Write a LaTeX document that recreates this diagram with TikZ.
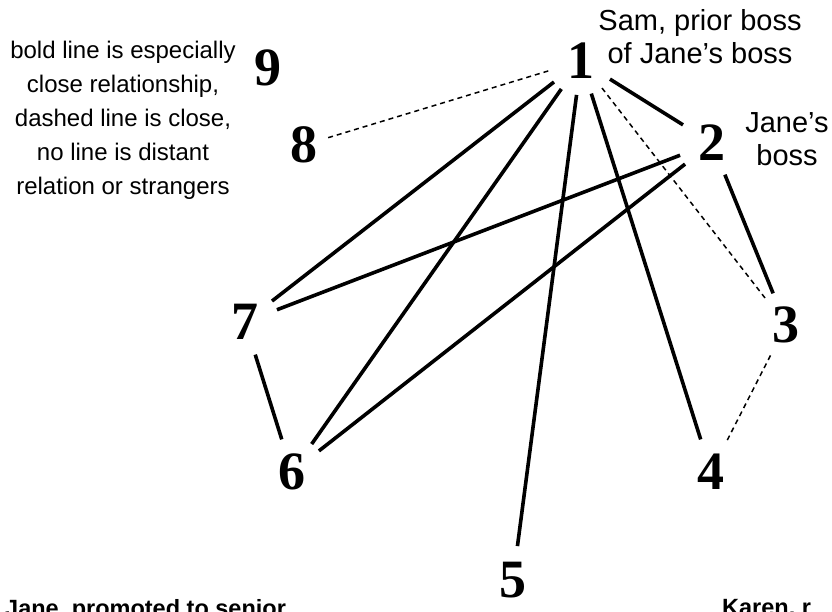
\documentclass[tikz,border=0pt]{standalone}
\usepackage{fontspec}
\setmainfont{Liberation Serif}
\setsansfont{Liberation Sans}

\begin{document}
\begin{tikzpicture}[x=1pt, y=-1pt,
        person/.style={circle, minimum size=68pt, inner sep=0pt, font=\bfseries\fontsize{54}{54}\selectfont},
        note/.style={inner sep=0pt, align=center, font=\sffamily\fontsize{24}{34}\selectfont},
        tag/.style={note, font=\sffamily\fontsize{29}{33}\selectfont},
        who/.style={note, anchor=north west, font=\sffamily\bfseries\fontsize{23.5}{30}\selectfont},
        tie/.style={line width=3.6pt},
        looser/.style={line width=1.5pt, dash pattern=on 5pt off 4pt}]
        % we fix the page to the size of the reference
        \clip (0,0) rectangle (832,611);

        % we place the people
        \node[person] (p1) at (581,61) {1};
        \node[person] (p2) at (712,143) {2};
        \node[person] (p3) at (786,325) {3};
        \node[person] (p4) at (711,472) {4};
        \node[person] (p5) at (513,580) {5};
        \node[person] (p6) at (292,472) {6};
        \node[person] (p7) at (245,322) {7};
        \node[person, minimum size=44pt] (p8) at (304,145) {8};
        \node[person] (p9) at (268,68) {9};

        % we draw the especially close relationships
        \draw[tie] (p1) -- (p2);
        \draw[tie] (p1) -- (p7);
        \draw[tie] (p1) -- (p6);
        \draw[tie] (p1) -- (p5);
        \draw[tie] (p1) -- (p4);
        \draw[tie] (p2) -- (p7);
        \draw[tie] (p2) -- (p6);
        \draw[tie] (p2) -- (p3);
        \draw[tie] (p7) -- (p6);

        % we draw the close relationships
        \draw[looser] (p1) -- (p8);
        \draw[looser] (p1) -- (p3);
        \draw[looser] (p3) -- (p4);

        % we add the notes
        \node[note, anchor=north] (legend) at (123,41) {bold line is especially\\close relationship,\\dashed line is close,\\no line is distant\\relation or strangers};
        \node[tag, anchor=north] (sam) at (700,9) {Sam, prior boss\\of Jane’s boss};
        \node[tag, anchor=north] (boss) at (787,112) {Jane’s\\boss};
        \node[who] (jane) at (5,599) {Jane, promoted to senior};
        \node[who] (karen) at (722,599) {Karen, r};
    \end{tikzpicture}
\end{document}
